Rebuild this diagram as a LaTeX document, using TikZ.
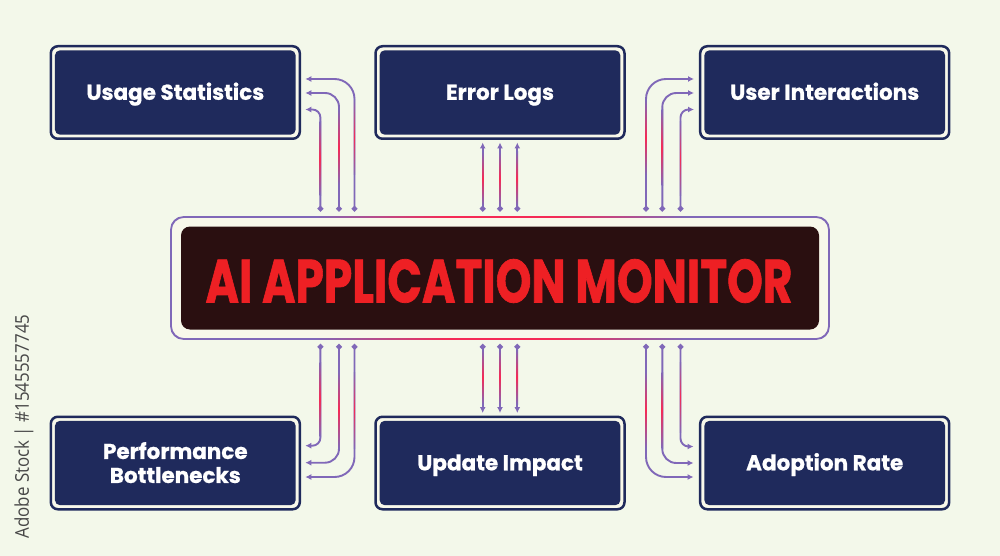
\documentclass[tikz,border=0pt]{standalone}
\usepackage{graphicx}
\usepackage{fontspec}
\setmainfont{Poppins}
\newfontfamily\sidefont{Open Sans}
\usetikzlibrary{arrows.meta}
\definecolor{bg}{HTML}{F3F8EA}
\definecolor{navy}{HTML}{1F2A5C}
\definecolor{cream}{HTML}{F8F8EA}
\definecolor{pv}{HTML}{8068B8}
\definecolor{rd}{HTML}{F52A55}
\definecolor{dark}{HTML}{2A0F10}
\definecolor{title}{HTML}{EE2024}
\pgfdeclarehorizontalshading{bordershade}{100bp}{color(0bp)=(pv); color(36bp)=(pv); color(46bp)=(rd); color(54bp)=(rd); color(64bp)=(pv); color(100bp)=(pv)}
\tikzset{
  frame/.style={draw=navy,line width=2.5pt,fill=cream,rounded corners=7pt,minimum width=249pt,minimum height=92.5pt,inner sep=0pt},
  statbox/.style={fill=navy,rounded corners=5pt,minimum width=240.7pt,minimum height=84.3pt,inner sep=0pt,text=white,align=center,
    font=\fontsize{21.5}{24}\selectfont\bfseries\addfontfeature{FakeBold=0.8},execute at begin node={\vphantom{g}\rule{0pt}{20.5pt}}},
  link/.style={draw=pv,line width=1.9pt,{Circle[length=5.6pt]}-{Latex[length=6pt,width=6pt]}},
}
% box: name, x, y, text
\newcommand{\statnode}[4]{%
  \node[frame] (#1f) at (#2,#3) {};
  \node[statbox] (#1) at (#2,#3) {#4};}
% red glow along a straight run: x, y-start, y-end
\newcommand{\glow}[3]{\shade[top color=pv,bottom color=pv,middle color=rd] (#1-0.7,#2) rectangle (#1+0.7,#3);}
\begin{document}
\begin{tikzpicture}[x=1pt,y=-1pt]
\useasboundingbox (0,0) rectangle (1000,556);
\fill[bg] (0,0) rectangle (1000,556);

\statnode{usage}{175.3}{92.5}{Usage Statistics}
\statnode{errors}{500}{92.5}{Error Logs}
\statnode{inter}{824.7}{92.5}{User Interactions}
\statnode{perf}{175.3}{463}{\raisebox{-2.5pt}[\height][\depth]{Performance}\\\raisebox{-2.5pt}[\height][\depth]{Bottlenecks}}
\statnode{update}{500}{463}{Update Impact}
\statnode{adopt}{824.7}{463}{Adoption Rate}

% central monitor
\fill[cream,rounded corners=13pt] (171,217) rectangle (829,339);
\shade[shading=bordershade,even odd rule]
  [rounded corners=13pt] (170.2,216.2) rectangle (829.8,339.8)
  [rounded corners=12pt] (171.9,217.9) rectangle (828.1,338.1);
\node[fill=dark,rounded corners=9pt,minimum width=638pt,minimum height=103pt,inner sep=0pt] (monitor) at (500,278) {};
\node[text=title,inner sep=0pt,font=\fontsize{61}{61}\selectfont\bfseries\addfontfeature{FakeBold=1.2}] (monitortext) at (499,281)
  {\scalebox{0.745}[1]{AI APPLICATION MONITOR}};

% start points on the monitor side
\foreach \n/\x in {a/320.4,b/339,c/354.5,d/482.7,e/500,f/517.3,g/646,h/662.3,i/680.5}{
  \coordinate (t\n) at (\x,211.5);
  \coordinate (b\n) at (\x,344);
}
% arrow ends
\coordinate (ua) at (305.3,109.5); \coordinate (ub) at (305.3,93); \coordinate (uc) at (305.3,79);
\coordinate (ed) at (482.7,142.5); \coordinate (ee) at (500,142.5); \coordinate (ef) at (517.3,142.5);
\coordinate (ig) at (694,79); \coordinate (ih) at (694,93); \coordinate (ii) at (694,109.5);
\coordinate (pa) at (305.3,445.7); \coordinate (pb) at (305.3,462.7); \coordinate (pc) at (305.3,477);
\coordinate (md) at (482.7,413); \coordinate (me) at (500,413); \coordinate (mf) at (517.3,413);
\coordinate (ag) at (693.5,477); \coordinate (ah) at (693.5,463); \coordinate (ai) at (693.5,446.5);

\draw[link,rounded corners=8pt] (ta) |- (ua);
\draw[link,rounded corners=14pt] (tb) |- (ub);
\draw[link,rounded corners=20pt] (tc) |- (uc);
\draw[link] (td) -- (ed);
\draw[link] (te) -- (ee);
\draw[link] (tf) -- (ef);
\draw[link,rounded corners=20pt] (tg) |- (ig);
\draw[link,rounded corners=14pt] (th) |- (ih);
\draw[link,rounded corners=8pt] (ti) |- (ii);

\draw[link,rounded corners=8pt] (ba) |- (pa);
\draw[link,rounded corners=14pt] (bb) |- (pb);
\draw[link,rounded corners=20pt] (bc) |- (pc);
\draw[link] (bd) -- (md);
\draw[link] (be) -- (me);
\draw[link] (bf) -- (mf);
\draw[link,rounded corners=20pt] (bg) |- (ag);
\draw[link,rounded corners=14pt] (bh) |- (ah);
\draw[link,rounded corners=8pt] (bi) |- (ai);

% red middle of the straight runs
\glow{320.4}{122}{195} \glow{339}{110}{185} \glow{354.5}{100}{175}
\glow{482.7}{152}{205} \glow{500}{152}{205} \glow{517.3}{152}{205}
\glow{646}{100}{175} \glow{662.3}{110}{185} \glow{680.5}{122}{195}
\glow{320.4}{362}{436} \glow{339}{372}{448} \glow{354.5}{372}{448}
\glow{482.7}{350}{404} \glow{500}{350}{404} \glow{517.3}{350}{404}
\glow{646}{372}{448} \glow{662.3}{372}{448} \glow{680.5}{362}{432}

\node[rotate=90,text=black!72,font=\sidefont\fontsize{19}{19}\selectfont,inner sep=0pt] (stock) at (24,426.5) {\scalebox{0.89}[1]{Adobe Stock | \#1545557745}};
\end{tikzpicture}
\end{document}
